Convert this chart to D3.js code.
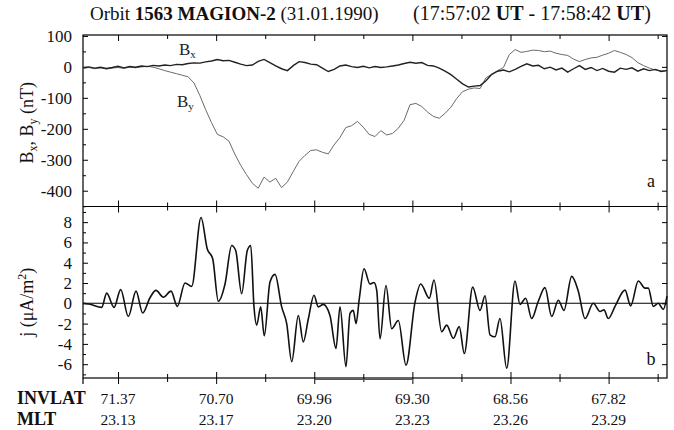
<!DOCTYPE html>
<html>
<head>
<meta charset="utf-8">
<script src="https://cdn.jsdelivr.net/npm/d3@7"></script>
<style>
body { margin: 0; background: #fff; }
svg { font-family: "Liberation Serif", "Times New Roman", serif; }
</style>
</head>
<body>
<div id="chart"></div>
<script>
// seconds after 17:57:02 UT (one sample per second for the magnetometer)
let bSeconds = d3.range(0, 101);

let bxValues = [-3, 0, -4, -1, -5, -2, 2, -3, 1, -1,
    3, 1, 5, 3, 6, 4, 8, 7, 11, 13,
    12, 16, 19, 24, 20, 21, 15, 9, 4, 6,
    18, 24, 14, 3, -6, -12, 4, 17, 14, 9,
    7, -4, -15, -8, 3, 6, 1, -2, 2, -3,
    1, -2, 0, 3, 6, 11, 15, 12, 14, 5,
    3, -4, -14, -25, -40, -55, -65, -62, -60, -45,
    -24, -14, -10, -16, -8, 2, 10, 3, 5, -6,
    -1, -10, -4, -17, -6, 4, -8, -2, -12, -5,
    -14, -17, -4, -8, -3, -14, -6, -12, -8, -15,
    -12];

let byValues = [-5, -2, -6, -3, -7, -4, -2, -5, -1, -3,
    0, 2, -1, -6, -12, -17, -22, -27, -32, -52,
    -92, -138, -180, -218, -226, -240, -282, -318, -348, -376,
    -392, -356, -372, -360, -390, -372, -338, -305, -286, -270,
    -268, -276, -281, -252, -228, -196, -190, -176, -195, -218,
    -225, -206, -220, -215, -198, -172, -122, -118, -128, -146,
    -160, -166, -150, -130, -102, -80, -72, -68, -70, -35,
    -24, -12, -2, 40, 56, 47, 50, 54, 53, 49,
    51, 44, 40, 37, 25, 17, 24, 29, 31, 38,
    44, 53, 47, 40, 30, 14, 4, -4, -10, -13,
    -12];

// field-aligned current density, turning points
let jSeconds = [0, 1.2, 3.2, 4.06, 5.31, 6.46, 7.76, 9.08, 10.22, 11.47,
    12.5, 13.75, 15.07, 16.15, 17.47, 18.61, 20.21, 21.28, 22.21, 23.17,
    24.32, 25.46, 26.15, 27.17, 28.13, 28.72, 29.28, 29.74, 30.43, 31.04,
    32.02, 32.88, 34.02, 34.88, 35.74, 36.87, 37.72, 38.58, 39.55, 40.29,
    41.15, 42.29, 43.32, 44.01, 45.03, 45.72, 46.28, 46.75, 47.31, 48.12,
    49.14, 49.83, 50.29, 50.86, 51.88, 52.86, 53.99, 55.31, 56.85, 57.83,
    59.3, 60.1, 61.42, 62.28, 63.41, 64.43, 65.29, 66.73, 67.98, 68.84,
    69.69, 70.55, 71.4, 72.55, 73.97, 74.83, 75.8, 76.83, 77.96, 79.11,
    80.26, 81.39, 82.36, 83.68, 84.81, 85.96, 87.38, 88.53, 89.21, 89.95,
    91.1, 92.81, 93.78, 95.09, 96.23, 96.8, 97.65, 98.51, 99.37, 100];

let jValues = [0, -0.1, -0.4, 1.0, -0.4, 1.35, -1.3, 1.2, -0.95, 0.55,
    1.27, 0.6, 1.2, -0.3, 2.0, 1.67, 8.45, 5.35, 4.4, 0.2,
    1.9, 5.7, 5.2, 0.95, 5.2, 5.7, -0.35, -2.15, -0.35, -3.2,
    2.1, 2.85, -0.35, -2.0, -5.75, -1.2, -3.8, -1.55, 0.8, -0.35,
    -0.1, -1.2, -4.45, -0.35, -6.25, -1.0, -0.7, -2.0, 0.45, 3.4,
    1.9, 2.05, 1.3, -3.5, 1.75, -2.5, -1.7, -6.1, 0.1, 1.9,
    0.5, 2.3, -2.8, -2.15, -3.45, -2.3, -4.95, 1.6, -0.7, 0.75,
    -3.1, -3.3, -1.5, -6.4, 2.2, -0.1, 0.5, -1.5, 0.2, 1.55,
    -1.3, 0.3, -0.7, 2.65, 1.2, -1.5, 0, -0.8, -0.65, -1.5,
    -0.3, 1.3, -0.25, 2.2, 1.5, 1.5, -0.3, 0, -0.6, 0.7];

// x ticks (seconds) and the orbit labels under every other one
let tickSeconds = [6.0, 14.4, 22.8, 31.2, 39.6, 48.0, 56.4, 64.8, 73.2, 81.6, 90.0, 98.4];
let invlatLabels = ["71.37", "70.70", "69.96", "69.30", "68.56", "67.82"];
let mltLabels = ["23.13", "23.17", "23.20", "23.23", "23.26", "23.29"];

let bTicks = [100, 0, -100, -200, -300, -400];
let bMinor = [50, -50, -150, -250, -350, -450];
let jTicks = [8, 6, 4, 2, 0, -2, -4, -6];
let jMinor = [9, 7, 5, 3, 1, -1, -3, -5, -7];

// layout
let W = 674, H = 430;
let pLeft = 83, pRight = 667, pTop = 35, pMid = 206.5, pBottom = 378;

let svg = d3.select("#chart").append("svg")
    .attr("width", W)
    .attr("height", H);

let x = d3.scaleLinear().domain([0, 100]).range([pLeft, pRight]);
let yB = d3.scaleLinear().domain([-451, 103]).range([pMid, pTop]);
let yJ = d3.scaleLinear().domain([-7.36, 9.54]).range([pBottom, pMid]);

let majorX = tickSeconds.filter((d, i) => i % 2 === 0);
let minorX = tickSeconds.filter((d, i) => i % 2 === 1);

function noDomain(g) {
    g.select(".domain").remove();
    g.selectAll("line").attr("stroke", "#000");
}

// x ticks on the borders
function xTicks(y, axisFn, vals, size) {
    svg.append("g")
        .attr("transform", "translate(0," + y + ")")
        .call(axisFn(x).tickValues(vals).tickSize(size).tickFormat(""))
        .call(noDomain);
}
xTicks(pTop, d3.axisTop, majorX, -6);
xTicks(pTop, d3.axisTop, minorX, -4);
xTicks(pMid, d3.axisTop, majorX, 6);
xTicks(pMid, d3.axisTop, minorX, 4);
xTicks(pMid, d3.axisBottom, majorX, 6);
xTicks(pMid, d3.axisBottom, minorX, 4);
xTicks(pBottom, d3.axisTop, majorX, 6);
xTicks(pBottom, d3.axisTop, minorX, 4);
xTicks(pBottom, d3.axisBottom, majorX, 6);
xTicks(pBottom, d3.axisBottom, minorX, 4);

// y axes
function yAxis(scale, major, minor) {
    let gl = svg.append("g")
        .attr("transform", "translate(" + pLeft + ",0)")
        .call(d3.axisLeft(scale).tickValues(major).tickSize(-5).tickPadding(11)
            .tickFormat(d => String(d)))
        .call(noDomain);
    gl.selectAll("text")
        .attr("font-size", 17)
        .attr("fill", "#111")
        .attr("font-family", "Liberation Serif");
    svg.append("g")
        .attr("transform", "translate(" + pLeft + ",0)")
        .call(d3.axisLeft(scale).tickValues(minor).tickSize(-3).tickFormat(""))
        .call(noDomain);
    svg.append("g")
        .attr("transform", "translate(" + pRight + ",0)")
        .call(d3.axisRight(scale).tickValues(major).tickSize(-5).tickFormat(""))
        .call(noDomain);
}
yAxis(yB, bTicks, bMinor);
yAxis(yJ, jTicks, jMinor);

// frames
svg.append("rect")
    .attr("x", pLeft).attr("y", pTop)
    .attr("width", pRight - pLeft).attr("height", pBottom - pTop)
    .attr("fill", "none").attr("stroke", "#000").attr("stroke-width", 1.2);
svg.append("line")
    .attr("x1", pLeft).attr("x2", pRight)
    .attr("y1", pMid).attr("y2", pMid)
    .attr("stroke", "#000").attr("stroke-width", 1.2);
svg.append("line")
    .attr("x1", pLeft).attr("x2", pLeft)
    .attr("y1", pBottom).attr("y2", pBottom + 6)
    .attr("stroke", "#000").attr("stroke-width", 1.2);
// faint doubled stroke under the axis between two ticks
svg.append("line")
    .attr("x1", x(tickSeconds[4])).attr("x2", x(tickSeconds[6]))
    .attr("y1", pBottom + 1.5).attr("y2", pBottom + 1.5)
    .attr("stroke", "#555").attr("stroke-width", 1);

// zero line of current panel
svg.append("line")
    .attr("x1", pLeft).attr("x2", pRight)
    .attr("y1", yJ(0)).attr("y2", yJ(0))
    .attr("stroke", "#000").attr("stroke-width", 1.1);

// magnetic field lines
let lineB = d3.line()
    .x((d, i) => x(bSeconds[i]))
    .y(d => yB(d));

svg.append("path")
    .datum(byValues)
    .attr("fill", "none")
    .attr("stroke", "#6a6a6a")
    .attr("stroke-width", 1)
    .attr("d", lineB);

svg.append("path")
    .datum(bxValues)
    .attr("fill", "none")
    .attr("stroke", "#222")
    .attr("stroke-width", 1.4)
    .attr("d", lineB);

// current density
let lineJ = d3.line()
    .x((d, i) => x(jSeconds[i]))
    .y(d => yJ(d))
    .curve(d3.curveMonotoneX);

svg.append("path")
    .datum(jValues)
    .attr("fill", "none")
    .attr("stroke", "#111")
    .attr("stroke-width", 1.6)
    .attr("d", lineJ);

// title
let t1 = svg.append("text")
    .attr("x", 90).attr("y", 20)
    .attr("font-size", 19).attr("fill", "#111");
t1.append("tspan").text("Orbit ");
t1.append("tspan").attr("font-weight", "bold").text("1563 MAGION-2");
t1.append("tspan").text(" (31.01.1990)");

let t2 = svg.append("text")
    .attr("x", 413).attr("y", 20)
    .attr("font-size", 20).attr("fill", "#111");
t2.append("tspan").text("(17:57:02 ");
t2.append("tspan").attr("font-weight", "bold").text("UT");
t2.append("tspan").text(" - 17:58:42 ");
t2.append("tspan").attr("font-weight", "bold").text("UT");
t2.append("tspan").text(")");

// y labels
let yl1 = svg.append("text")
    .attr("transform", "translate(33," + ((pTop + pMid) / 2 + 2) + ") rotate(-90)")
    .attr("text-anchor", "middle")
    .attr("font-size", 18).attr("fill", "#111");
yl1.append("tspan").text("B");
yl1.append("tspan").attr("font-size", 12).attr("dy", 4).text("x");
yl1.append("tspan").attr("dy", -4).text(", B");
yl1.append("tspan").attr("font-size", 12).attr("dy", 4).text("y");
yl1.append("tspan").attr("dy", -4).text(" (nT)");

let yl2 = svg.append("text")
    .attr("transform", "translate(33," + ((pMid + pBottom) / 2 + 10) + ") rotate(-90)")
    .attr("text-anchor", "middle")
    .attr("font-size", 18).attr("fill", "#111");
yl2.append("tspan").text("j (\u03bcA/m");
yl2.append("tspan").attr("font-size", 12).attr("dy", -7).text("2");
yl2.append("tspan").attr("dy", 7).text(")");

// series labels
function bLabel(px, py, sub) {
    let t = svg.append("text")
        .attr("x", px).attr("y", py)
        .attr("font-size", 17).attr("fill", "#222");
    t.append("tspan").text("B");
    t.append("tspan").attr("font-size", 11).attr("dy", 3).text(sub);
}
bLabel(179, 55, "x");
bLabel(177, 107, "y");

// panel letters
svg.append("text").attr("x", 651).attr("y", 187)
    .attr("text-anchor", "middle").attr("font-size", 18).attr("fill", "#111").text("a");
svg.append("text").attr("x", 651).attr("y", 365)
    .attr("text-anchor", "middle").attr("font-size", 18).attr("fill", "#111").text("b");

// orbit labels under the axis
svg.append("text").attr("x", 17).attr("y", 404)
    .attr("font-size", 18).attr("font-weight", "bold").attr("fill", "#111").text("INVLAT");
svg.append("text").attr("x", 17).attr("y", 425)
    .attr("font-size", 18).attr("font-weight", "bold").attr("fill", "#111").text("MLT");

svg.append("g").selectAll("text")
    .data(invlatLabels)
    .join("text")
    .attr("x", (d, i) => x(majorX[i]))
    .attr("y", 404)
    .attr("text-anchor", "middle")
    .attr("font-size", 15.5).attr("fill", "#111")
    .text(d => d);

svg.append("g").selectAll("text")
    .data(mltLabels)
    .join("text")
    .attr("x", (d, i) => x(majorX[i]))
    .attr("y", 425)
    .attr("text-anchor", "middle")
    .attr("font-size", 15.5).attr("fill", "#111")
    .text(d => d);
</script>
</body>
</html>
